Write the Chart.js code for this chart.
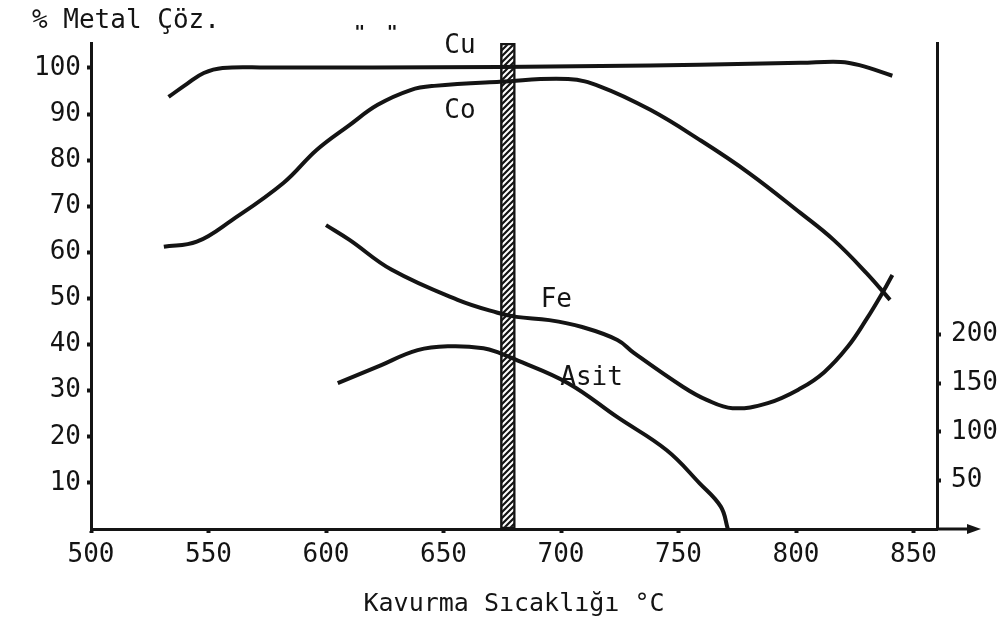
<!DOCTYPE html>
<html lang="tr">
<head>
<meta charset="utf-8">
<title>Kavurma Sıcaklığı - % Metal Çözünmesi</title>
<script src="https://cdn.jsdelivr.net/npm/chart.js@4.4.1/dist/chart.umd.min.js"></script>
<style>
  html, body { margin: 0; padding: 0; background: #fff; }
  #kutu { width: 1003px; height: 622px; position: relative; }
</style>
</head>
<body>
<div id="kutu"><canvas id="grafik"></canvas></div>
<script>
// --- VERİLER ---
const cuSicaklik = [533, 541, 548, 556, 575, 620, 674, 717, 759, 802, 819, 827, 841];
const cuYuzde    = [93.7, 96.6, 98.9, 100.0, 100.1, 100.1, 100.2, 100.4, 100.7, 101.1, 101.3, 100.6, 98.3];

const coSicaklik = [531, 545, 560, 582, 596, 610, 622, 636, 646, 674, 703, 717, 738, 759, 780, 802, 816, 830, 840];
const coYuzde    = [61.2, 62.3, 67.0, 75.1, 82.2, 87.6, 92.0, 95.2, 96.1, 97.0, 97.6, 95.9, 90.9, 84.4, 77.2, 68.5, 62.7, 55.5, 49.7];

const feSicaklik = [600, 610, 628, 656, 673, 681, 695, 709, 724, 731, 752, 762, 773, 788, 802, 812, 822, 830, 837, 841];
const feYuzde    = [65.9, 62.7, 56.2, 49.7, 46.9, 46.0, 45.3, 43.8, 41.0, 38.2, 30.8, 28.0, 26.2, 27.3, 30.5, 34.0, 39.5, 45.5, 51.4, 55.1];

// asit tüketimi sağ eksende
const asitSicaklik = [605, 622, 639, 653, 667, 674, 680, 703, 724, 745, 759, 768, 771];
const asitDeger    = [150, 167, 184, 188, 186, 181, 175, 150, 115, 81, 47, 23, 0];

// seçilen kavurma sıcaklığı (taralı sütun)
const secilenSicaklik = 677.4;
const sutunUst = 105.4;

const xEtiketleri = [500, 550, 600, 650, 700, 750, 800, 850];
const solEtiketler = [10, 20, 30, 40, 50, 60, 70, 80, 90, 100];
const sagEtiketler = [50, 100, 150, 200];

const egriAdlari = ['Cu', 'Co', 'Fe', 'Asit'];
const adSicaklik = [657, 657, 698, 713];
const adYuzde    = [104.8, 90.7, 49.7, 32.8];

const KOYU = '#141414';
const YAZI_FONT = '"DejaVu Sans Mono", "Liberation Mono", monospace';

// --- YARDIMCI ---
function noktalar(xs, ys) {
    return xs.map((t, i) => ({ x: t, y: ys[i] }));
}

function taramaDeseni() {
    const c = document.createElement('canvas');
    c.width = 6; c.height = 6;
    const g = c.getContext('2d');
    g.fillStyle = '#fff';
    g.fillRect(0, 0, 6, 6);
    g.strokeStyle = KOYU;
    g.lineWidth = 2.2;
    g.beginPath();
    g.moveTo(-1, 7); g.lineTo(7, -1);
    g.moveTo(-4, 4); g.lineTo(4, -4);
    g.moveTo(2, 10); g.lineTo(10, 2);
    g.stroke();
    return g.createPattern(c, 'repeat');
}

function egri(ad, xs, ys, eksen) {
    return {
        type: 'line',
        label: ad,
        data: noktalar(xs, ys),
        yAxisID: eksen,
        borderColor: KOYU,
        borderWidth: 4,
        pointRadius: 0,
        tension: 0.4,
        fill: false
    };
}

// --- EK ÇİZİMLER: başlık, eğri adları, x ekseni oku ---
const yaziEklentisi = {
    id: 'yazilar',
    afterDraw(chart) {
        const ctx = chart.ctx;
        const sx = chart.scales.x;
        const sy = chart.scales.y;
        const a = chart.chartArea;
        ctx.save();
        ctx.fillStyle = KOYU;
        ctx.font = '26px ' + YAZI_FONT;
        ctx.textAlign = 'center';
        ctx.textBaseline = 'middle';
        egriAdlari.forEach((ad, i) => {
            ctx.fillText(ad, sx.getPixelForValue(adSicaklik[i]), sy.getPixelForValue(adYuzde[i]));
        });

        ctx.textAlign = 'left';
        ctx.fillText('% Metal Çöz.', 32, 21);
        ctx.font = 'bold 18px ' + YAZI_FONT;
        ctx.fillText('"  "', sx.getPixelForValue(612), 33);

        ctx.strokeStyle = KOYU;
        ctx.lineWidth = 3;
        ctx.beginPath();
        ctx.moveTo(a.right, a.bottom);
        ctx.lineTo(a.right + 34, a.bottom);
        ctx.stroke();
        ctx.beginPath();
        ctx.moveTo(a.right + 44, a.bottom);
        ctx.lineTo(a.right + 30, a.bottom - 5);
        ctx.lineTo(a.right + 30, a.bottom + 5);
        ctx.closePath();
        ctx.fill();
        ctx.restore();
    }
};

function izgara() {
    return {
        offset: false,
        drawOnChartArea: false,
        drawTicks: true,
        tickLength: 4,
        tickWidth: 4,
        tickColor: KOYU
    };
}
const eksenCizgi = { display: true, color: KOYU, width: 3 };

// --- GRAFİK ---
Chart.defaults.font.family = YAZI_FONT;
Chart.defaults.color = KOYU;

const ctx = document.getElementById('grafik').getContext('2d');
new Chart(ctx, {
    type: 'line',
    data: {
        datasets: [
            egri('Cu', cuSicaklik, cuYuzde, 'y'),
            egri('Co', coSicaklik, coYuzde, 'y'),
            egri('Fe', feSicaklik, feYuzde, 'y'),
            egri('Asit', asitSicaklik, asitDeger, 'y2'),
            {
                type: 'bar',
                label: 'Seçilen sıcaklık',
                data: [{ x: secilenSicaklik, y: sutunUst }],
                yAxisID: 'y',
                backgroundColor: taramaDeseni(),
                borderColor: KOYU,
                borderWidth: 2.5,
                borderSkipped: false,
                barThickness: 15
            }
        ]
    },
    options: {
        responsive: true,
        maintainAspectRatio: false,
        animation: false,
        layout: { padding: { top: 43, left: 0, right: 0, bottom: 0 } },
        plugins: {
            legend: { display: false },
            tooltip: { enabled: false },
            title: { display: false }
        },
        scales: {
            x: {
                type: 'linear',
                min: 500,
                max: 860,
                offset: false,
                grid: izgara(),
                border: eksenCizgi,
                afterBuildTicks: (s) => { s.ticks = xEtiketleri.map(v => ({ value: v })); },
                afterFit: (s) => { s.height = 93; },
                ticks: { font: { size: 26 }, padding: 7, maxRotation: 0 },
                title: {
                    display: true,
                    text: 'Kavurma Sıcaklığı °C',
                    font: { size: 25 },
                    padding: { top: 0, bottom: 3 }
                }
            },
            y: {
                position: 'left',
                min: 0,
                max: 105.4,
                grid: izgara(),
                border: eksenCizgi,
                afterBuildTicks: (s) => { s.ticks = solEtiketler.map(v => ({ value: v })); },
                afterFit: (s) => { s.width = 91; },
                ticks: { font: { size: 26 }, padding: 6 }
            },
            y2: {
                position: 'right',
                min: 0,
                max: 500,
                grid: izgara(),
                border: eksenCizgi,
                afterBuildTicks: (s) => { s.ticks = sagEtiketler.map(v => ({ value: v })); },
                afterFit: (s) => { s.width = 66; },
                ticks: { font: { size: 26 }, padding: 10 }
            }
        }
    },
    plugins: [yaziEklentisi]
});
</script>
</body>
</html>
